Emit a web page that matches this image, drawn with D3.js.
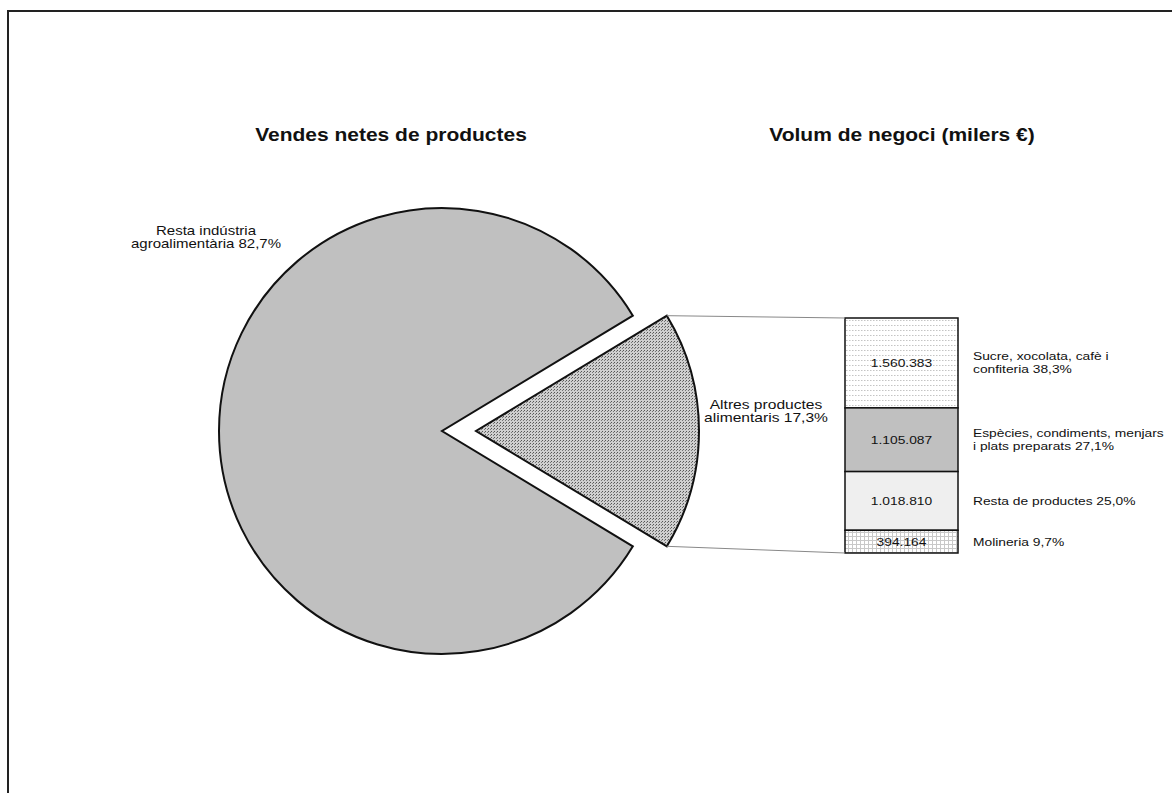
<!DOCTYPE html>
<html><head><meta charset="utf-8">
<script src="https://cdn.jsdelivr.net/npm/d3@7"></script>
<style>
html,body{margin:0;padding:0;background:#fff;}
svg{display:block;font-family:"Liberation Sans",Arial,sans-serif;}
</style></head>
<body>
<svg id="chart" width="1172" height="793"></svg>
<script>
// ---- data ----
const titles = ["Vendes netes de productes", "Volum de negoci (milers €)"];
const pieCategories = ["Altres productes alimentaris", "Resta indústria agroalimentària"];
const pieValues = [17.3, 82.7];
const pieLabelLines = [["Altres productes", "alimentaris 17,3%"], ["Resta indústria", "agroalimentària 82,7%"]];
const barCategories = ["Sucre, xocolata, cafè i confiteria", "Espècies, condiments, menjars i plats preparats", "Resta de productes", "Molineria"];
const barValues = [1560383, 1105087, 1018810, 394164];
const barLabelLines = [["Sucre, xocolata,  cafè i", "confiteria 38,3%"], ["Espècies, condiments, menjars", "i plats preparats 27,1%"], ["Resta de productes 25,0%"], ["Molineria 9,7%"]];

// ---- setup ----
const svg = d3.select("#chart");
const SX = 1.2; // horizontal stretch of text as in reference
const loc = d3.formatLocale({decimal: ",", thousands: ".", grouping: [3], currency: ["", "€"]});
const fmt = loc.format(",d");

const defs = svg.append("defs");
// pattern for exploded pie slice
const p1 = defs.append("pattern").attr("id", "patSlice").attr("width", 3).attr("height", 3).attr("patternUnits", "userSpaceOnUse");
p1.append("rect").attr("width", 3).attr("height", 3).attr("fill", "#cfcfcf");
p1.append("rect").attr("x", 0).attr("y", 0).attr("width", 1).attr("height", 1).attr("fill", "#555");
p1.append("rect").attr("x", 2).attr("y", 1).attr("width", 1).attr("height", 1).attr("fill", "#777");
// dotted pattern
const p2 = defs.append("pattern").attr("id", "patDots").attr("width", 3).attr("height", 5).attr("patternUnits", "userSpaceOnUse");
p2.append("rect").attr("width", 3).attr("height", 5).attr("fill", "#fff");
p2.append("rect").attr("x", 0).attr("y", 0).attr("width", 1.5).attr("height", 1).attr("fill", "#c4c4c4");
// grid pattern
const p3 = defs.append("pattern").attr("id", "patGrid").attr("width", 4).attr("height", 4).attr("patternUnits", "userSpaceOnUse");
p3.append("rect").attr("width", 4).attr("height", 4).attr("fill", "#fff");
p3.append("rect").attr("x", 0).attr("y", 0).attr("width", 4).attr("height", 1).attr("fill", "#c8c8c8");
p3.append("rect").attr("x", 0).attr("y", 0).attr("width", 1).attr("height", 4).attr("fill", "#c8c8c8");

const barFills = ["url(#patDots)", "#c0c0c0", "#efefef", "url(#patGrid)"];
const pieFills = ["url(#patSlice)", "#c0c0c0"];

// frame
svg.append("rect").attr("x", 8).attr("y", 11).attr("width", 1300).attr("height", 900)
  .attr("fill", "none").attr("stroke", "#222").attr("stroke-width", 2);

function stretchedText(g, x, y, str, size, weight, anchor) {
  return g.append("text")
    .attr("transform", `translate(${x},${y}) scale(${SX},1)`)
    .attr("text-anchor", anchor || "middle")
    .attr("font-size", size).attr("font-weight", weight || "normal")
    .attr("fill", "#111").text(str);
}

// titles
stretchedText(svg, 391, 141, titles[0], 17.5, "bold");
stretchedText(svg, 902, 141, titles[1], 17.5, "bold");

// ---- pie ----
const cx = 442, cy = 431, R = 223, explode = 34;
const half = pieValues[0] / 100 * Math.PI;
const pie = d3.pie().sort(null).value(d => d)
  .startAngle(Math.PI / 2 - half).endAngle(Math.PI / 2 - half + 2 * Math.PI);
const arcs = pie(pieValues);
const arc = d3.arc().innerRadius(0).outerRadius(R);
const pg = svg.append("g").attr("transform", `translate(${cx},${cy})`);
arcs.forEach((a, i) => {
  const mid = (a.startAngle + a.endAngle) / 2;
  const off = i === 0 ? explode : 0;
  pg.append("path").attr("d", arc(a))
    .attr("transform", `translate(${off * Math.sin(mid)},${-off * Math.cos(mid)})`)
    .attr("fill", pieFills[i]).attr("stroke", "#111").attr("stroke-width", 2).attr("stroke-linejoin", "miter");
});

// ---- bar ----
const total = d3.sum(barValues);
const barX = 845, barW = 113;
const y = d3.scaleLinear().domain([0, total]).range([318, 553]);
const cum = [0];
barValues.forEach((v, i) => cum.push(cum[i] + v));
const bg = svg.append("g");

// connector lines from exploded slice to bar
const s = arcs[0];
const sMid = (s.startAngle + s.endAngle) / 2;
const ox = cx + explode * Math.sin(sMid), oy = cy - explode * Math.cos(sMid);
const pt = ang => [ox + R * Math.sin(ang), oy - R * Math.cos(ang)];
const pTop = pt(s.startAngle), pBot = pt(s.endAngle);
svg.append("line").attr("x1", pTop[0]).attr("y1", pTop[1]).attr("x2", barX).attr("y2", y(0))
  .attr("stroke", "#888").attr("stroke-width", 1);
svg.append("line").attr("x1", pBot[0]).attr("y1", pBot[1]).attr("x2", barX).attr("y2", y(total))
  .attr("stroke", "#888").attr("stroke-width", 1);

barValues.forEach((v, i) => {
  const y0 = y(cum[i]), y1 = y(cum[i + 1]);
  bg.append("rect").attr("x", barX).attr("y", y0).attr("width", barW).attr("height", y1 - y0)
    .attr("fill", barFills[i]).attr("stroke", "#111").attr("stroke-width", 1.5);
  const mid = (y0 + y1) / 2;
  stretchedText(bg, barX + barW / 2, mid + 4, fmt(v), 11.5, "normal");
  const lines = barLabelLines[i];
  const lh = 13;
  lines.forEach((ln, j) => {
    stretchedText(bg, barX + barW + 15, mid + 4 + (j - (lines.length - 1) / 2) * lh, ln, 11.5, "normal", "start");
  });
});

// pie labels
pieLabelLines[1].forEach((ln, j) => stretchedText(svg, cx - 236, cy - 196 + j * 12.5, ln, 12.5, "normal"));
pieLabelLines[0].forEach((ln, j) => stretchedText(svg, cx + 324, cy - 22 + j * 13, ln, 13, "normal"));
</script>
</body></html>
